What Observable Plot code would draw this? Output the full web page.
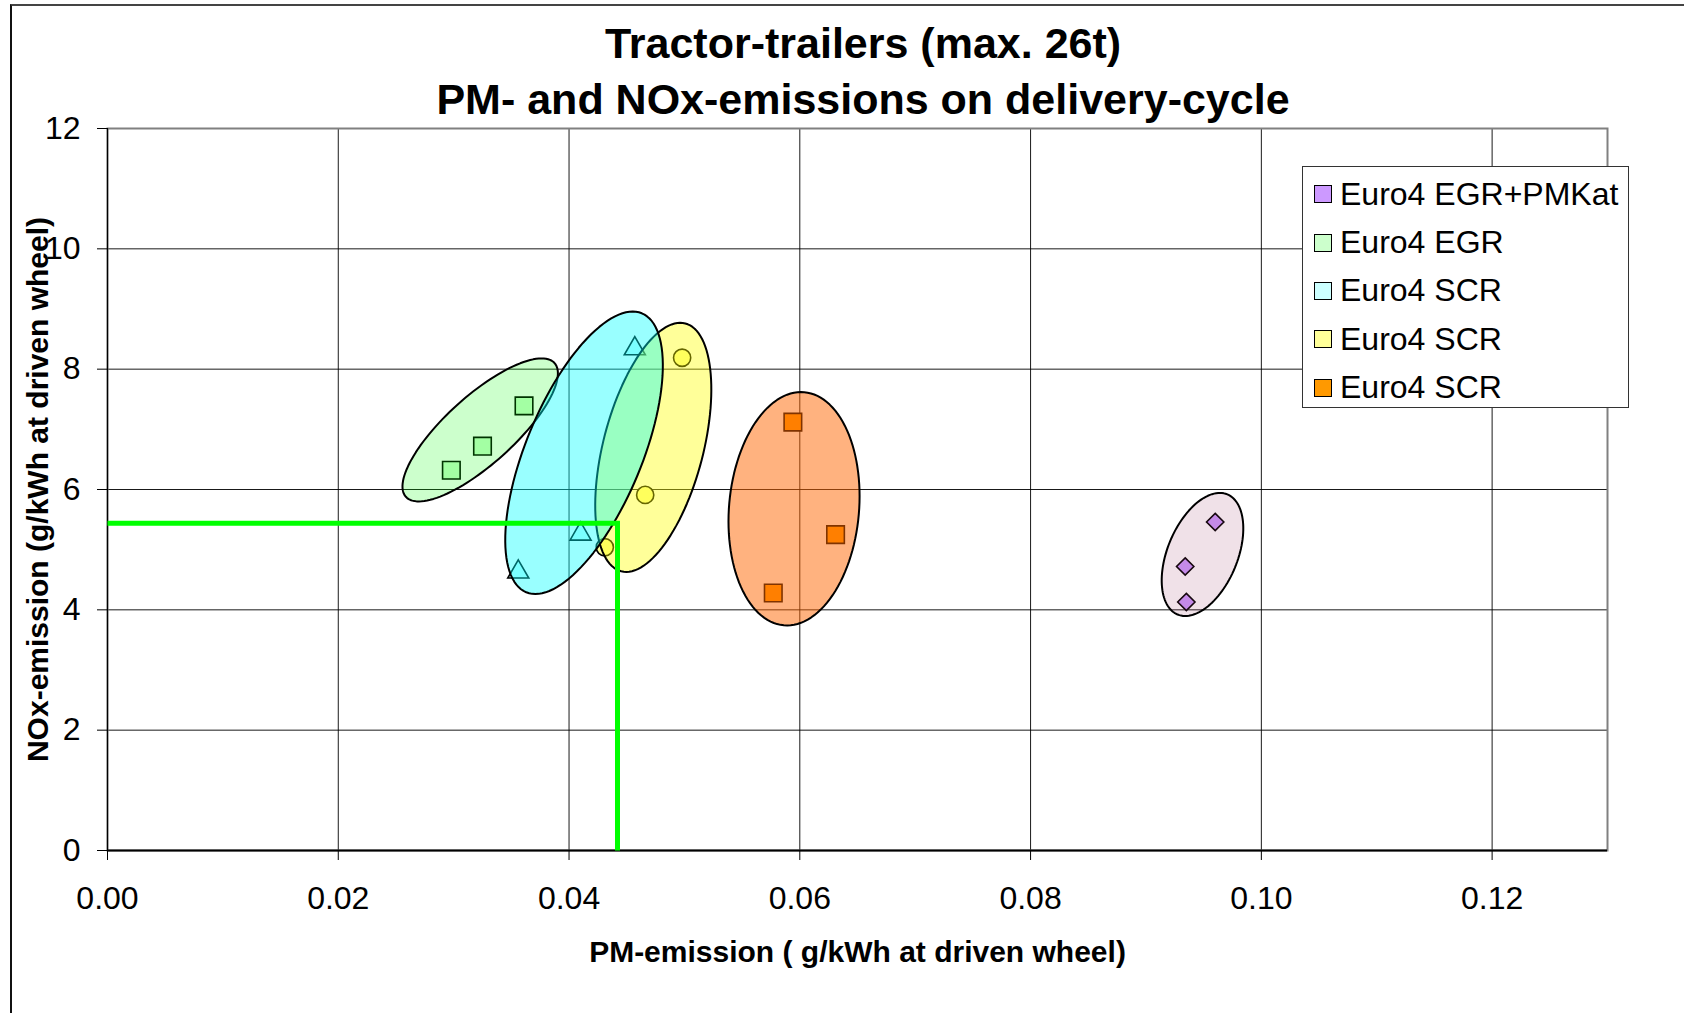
<!DOCTYPE html>
<html>
<head>
<meta charset="utf-8">
<script src="https://cdn.jsdelivr.net/npm/d3@7"></script>
<script src="https://cdn.jsdelivr.net/npm/@observablehq/plot@0.6"></script>
<style>
  body { margin: 0; background: #fff; font-family: "Liberation Sans", Arial, sans-serif; }
  #wrap { position: relative; width: 1684px; height: 1013px; overflow: hidden; background: #fff; }
  #frame { position: absolute; left: 10px; top: 4px; width: 1700px; height: 1100px; border-left: 2px solid #111; border-top: 2px solid #444; pointer-events: none; z-index: 4; }
  #title { position: relative; z-index: 2; height: 112px; padding-top: 15px; box-sizing: border-box; width: 1726px; text-align: center; font-weight: bold; font-size: 43px; line-height: 56px; color: #000; }
  #legend { position: absolute; left: 1302px; top: 166px; width: 327px; height: 242px; box-sizing: border-box; border: 1px solid #333; background: #fff; padding-top: 3px; z-index: 3; }
  .row { height: 48.35px; display: flex; align-items: center; font-size: 32px; white-space: nowrap; color: #000; }
  .sw { width: 16px; height: 16px; border: 1.5px solid #000; margin-left: 11px; margin-right: 8px; flex: none; }
  #chart { position: relative; z-index: 1; }
</style>
</head>
<body>
<div id="wrap">
  <div id="frame"></div>
  <div id="title"></div>
  <div id="chart"></div>
  <div id="legend"></div>
</div>
<script>
// ---- Data ----
const titleLines = ["Tractor-trailers (max. 26t)", "PM- and NOx-emissions on delivery-cycle"];
const xTitle = "PM-emission ( g/kWh at driven wheel)";
const yTitle = "NOx-emission (g/kWh at driven wheel)";

const seriesNames = ["Euro4 EGR+PMKat", "Euro4 EGR", "Euro4 SCR", "Euro4 SCR", "Euro4 SCR"];

const egrPmkatPM  = [0.0960, 0.0934, 0.0935];
const egrPmkatNOx = [5.46, 4.72, 4.13];

const egrPM  = [0.0298, 0.0325, 0.0361];
const egrNOx = [6.32, 6.72, 7.39];

const scrAPM  = [0.0356, 0.0410, 0.0457];
const scrANOx = [4.63, 5.26, 8.34];

const scrBPM  = [0.0431, 0.0466, 0.0498];
const scrBNOx = [5.04, 5.91, 8.19];

const scrCPM  = [0.0594, 0.0631, 0.0577];
const scrCNOx = [7.12, 5.25, 4.28];

const limitPM  = 0.0442;
const limitNOx = 5.44;

const xTicks = [0, 0.02, 0.04, 0.06, 0.08, 0.10, 0.12];
const yTicks = [0, 2, 4, 6, 8, 10, 12];

// group outline ellipses: centres in data units
const ellipseCx = [0.0323, 0.0473, 0.0413, 0.0595, 0.0949];
const ellipseCy = [6.99, 6.70, 6.61, 5.68, 4.92];

// ---- Layout / styling ----
const W = 1684, H = 901;
const mL = 107, mR = 77, mT = 16, mB = 163;
const xDomain = [0, 0.13], yDomain = [0, 12];
const kx = (xDomain[1] - xDomain[0]) / (W - mL - mR);
const ky = (yDomain[1] - yDomain[0]) / (H - mT - mB);

// ellipse shapes (pixel semi-axes, rotation) and styles
const ellipseStyle = [
  {a: 100, b: 34, angle: 42,   fill: "#00ff00", op: 0.2},   // EGR (green)
  {a: 128, b: 50, angle: 75.5, fill: "#ffff00", op: 0.4},   // SCR yellow
  {a: 151, b: 58, angle: 67.5, fill: "#00ffff", op: 0.4},   // SCR cyan
  {a: 117, b: 65, angle: 85,   fill: "#ff6600", op: 0.5},   // SCR orange
  {a: 65,  b: 35, angle: 67.5, fill: "#993366", op: 0.15}   // EGR+PMKat
];

function ellipsePoints(cx, cy, s) {
  const th = s.angle * Math.PI / 180, pts = [];
  for (let i = 0; i < 120; i++) {
    const t = 2 * Math.PI * i / 120;
    const dx = s.a * Math.cos(t) * Math.cos(th) - s.b * Math.sin(t) * Math.sin(th);
    const dy = s.a * Math.cos(t) * Math.sin(th) + s.b * Math.sin(t) * Math.cos(th);
    pts.push({x: cx + dx * kx, y: cy + dy * ky});
  }
  return pts;
}

const rows = (pm, nox) => pm.map((v, i) => ({pm: v, nox: nox[i]}));

const series = [
  {name: seriesNames[0], data: rows(egrPmkatPM, egrPmkatNOx), symbol: "diamond2", r: 7.8, fill: "#cc99ff"},
  {name: seriesNames[1], data: rows(egrPM, egrNOx), symbol: "square", r: 9.9, fill: "#ccffcc"},
  {name: seriesNames[2], data: rows(scrAPM, scrANOx), symbol: "triangle", r: 7.8, fill: "#ccffff"},
  {name: seriesNames[3], data: rows(scrBPM, scrBNOx), symbol: "circle", r: 8.6, fill: "#ffff99"},
  {name: seriesNames[4], data: rows(scrCPM, scrCNOx), symbol: "square", r: 9.9, fill: "#ff9900"}
];

const limitPath = [
  {x: xDomain[0], y: limitNOx},
  {x: limitPM, y: limitNOx},
  {x: limitPM, y: yDomain[0]}
];

const marks = [
  Plot.gridX(xTicks, {stroke: "#000", strokeOpacity: 0.9}),
  Plot.gridY(yTicks, {stroke: "#000", strokeOpacity: 0.9}),
  Plot.frame({stroke: "#808080", strokeWidth: 2}),
  Plot.ruleX([0], {stroke: "#000", strokeWidth: 1.2}),
  Plot.ruleY([0], {stroke: "#000", strokeWidth: 2})
];

for (const s of series) {
  marks.push(Plot.dot(s.data, {x: "pm", y: "nox", symbol: s.symbol, r: s.r, fill: s.fill, stroke: "#000", strokeWidth: 1.6}));
}

ellipseStyle.forEach((s, i) => {
  marks.push(Plot.line(ellipsePoints(ellipseCx[i], ellipseCy[i], s), {
    x: "x", y: "y", curve: "linear-closed", fill: s.fill, fillOpacity: s.op,
    stroke: "#000", strokeWidth: 2
  }));
});

marks.push(Plot.line(limitPath, {x: "x", y: "y", stroke: "#00ff00", strokeWidth: 5, strokeLinecap: "butt", strokeLinejoin: "miter", strokeMiterlimit: 4}));

marks.push(
  Plot.axisX(xTicks, {tickFormat: d3.format(".2f"), tickSize: 10, tickPadding: 26, fontSize: 32, label: null}),
  Plot.axisY(yTicks, {tickFormat: d3.format("d"), tickSize: 10, tickPadding: 17, fontSize: 32, label: null}),
  Plot.text([xTitle], {frameAnchor: "bottom", dy: 102, fontSize: 30, fontWeight: "bold", lineAnchor: "middle", textAnchor: "middle"}),
  Plot.text([yTitle], {frameAnchor: "left", dx: -69.5, rotate: -90, fontSize: 30, fontWeight: "bold", lineAnchor: "middle", textAnchor: "middle"})
);

const chart = Plot.plot({
  width: W, height: H,
  marginLeft: mL, marginRight: mR, marginTop: mT, marginBottom: mB,
  x: {domain: xDomain},
  y: {domain: yDomain},
  style: {fontFamily: "'Liberation Sans', Arial, sans-serif", background: "transparent", overflow: "visible", color: "#000"},
  marks
});
document.getElementById("chart").appendChild(chart);

document.getElementById("title").innerHTML = titleLines.map(t => `<div>${t}</div>`).join("");

const legend = document.getElementById("legend");
series.forEach(s => {
  const row = document.createElement("div");
  row.className = "row";
  const sw = document.createElement("span");
  sw.className = "sw";
  sw.style.background = s.fill;
  const label = document.createElement("span");
  label.textContent = s.name;
  row.appendChild(sw);
  row.appendChild(label);
  legend.appendChild(row);
});
</script>
</body>
</html>
